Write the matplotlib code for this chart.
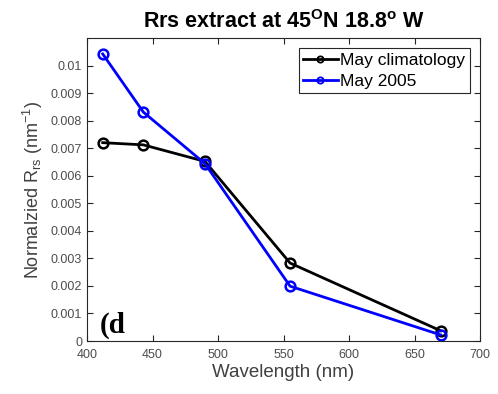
import matplotlib
matplotlib.use("Agg")
import matplotlib.pyplot as plt
from matplotlib.lines import Line2D

wavelength = [412, 443, 490, 555, 670]
may_climatology = [0.00720, 0.00712, 0.00652, 0.00283, 0.00037]
may_2005 = [0.01042, 0.00831, 0.00644, 0.00199, 0.00022]
series_names = ["May climatology", "May 2005"]
xticks = [400, 450, 500, 550, 600, 650, 700]
yticks = [0, 0.001, 0.002, 0.003, 0.004, 0.005, 0.006, 0.007, 0.008, 0.009, 0.01]
ytick_labels = ["0", "0.001", "0.002", "0.003", "0.004", "0.005", "0.006",
                "0.007", "0.008", "0.009", "0.01"]

plt.rcParams["font.family"] = ["Liberation Sans", "DejaVu Sans"]
plt.rcParams["mathtext.fontset"] = "custom"
plt.rcParams["mathtext.rm"] = "Liberation Sans"
plt.rcParams["mathtext.bf"] = "Liberation Sans:bold"

colors = ["black", "#0000ff"]

fig = plt.figure(figsize=(4.98, 3.94), dpi=100)
ax = fig.add_axes([0.1747, 0.1345, 0.7893, 0.7691])

for vals, c in zip([may_climatology, may_2005], colors):
    ax.plot(wavelength, vals, "-o", color=c, lw=2,
            mfc="none", mec=c, ms=7, mew=1.8)

ax.set_xlim(400, 700)
ax.set_ylim(0, 0.011)
ax.set_xticks(xticks)
ax.set_yticks(yticks)
ax.set_yticklabels(ytick_labels)
ax.tick_params(direction="in", top=True, right=True, labelsize=9,
               colors="#262626", labelcolor="#4d4d4d", length=4)
ax.tick_params(axis="x", pad=6)
for s in ax.spines.values():
    s.set_color("#262626")
    s.set_linewidth(0.8)

ax.set_xlabel("Wavelength (nm)", fontsize=13.5, color="#404040", labelpad=2)
ax.set_ylabel(r"Normalzied R$_{\mathrm{rs}}$ (nm$^{\mathrm{-1}}$)", fontsize=13,
              color="#404040")
ax.set_title(r"Rrs extract at 45$^{\mathbf{O}}$N 18.8$^{\mathbf{o}}$ W",
             fontsize=15.5, fontweight="bold", pad=7)

handles = [Line2D([], [], color=c, lw=2, marker="o", mfc="none", mec=c,
                  ms=4.5, mew=1.3) for c in colors]
leg = ax.legend(handles, series_names, loc="upper right", fontsize=12.5,
                handlelength=2.0, handletextpad=0.15, borderpad=0.25,
                labelspacing=0.35, fancybox=False, framealpha=1,
                edgecolor="#262626", borderaxespad=0.6)
leg.get_frame().set_linewidth(0.8)

ax.text(0.033, 0.026, "(d", transform=ax.transAxes, fontsize=21,
        fontweight="bold", family="Liberation Serif", color="black")

fig.savefig("out.png", dpi=100)
